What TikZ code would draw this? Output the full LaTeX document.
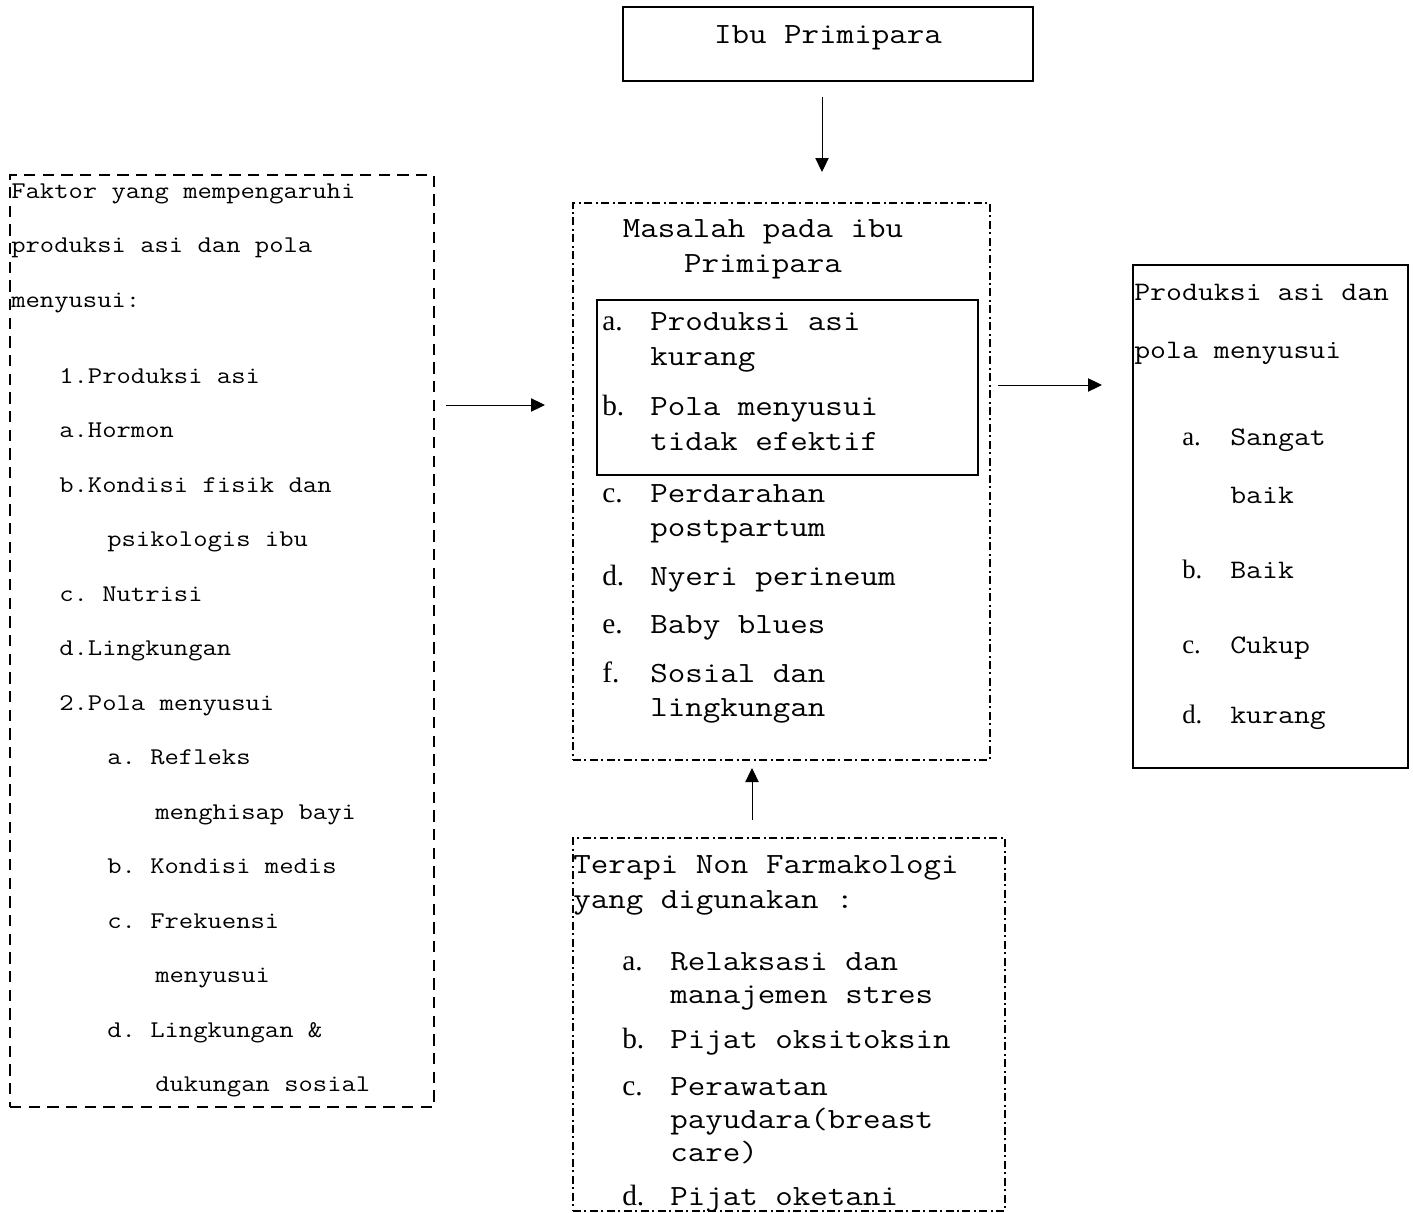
\documentclass[tikz,border=0pt]{standalone}
\usepackage{fontspec}
\setmainfont{Liberation Serif}
\setmonofont[FakeStretch=1.16]{Latin Modern Mono}
\usetikzlibrary{arrows.meta}

\newcommand{\fkiri}{\ttfamily\fontsize{18}{18}\selectfont}
\newcommand{\ftengah}{\ttfamily\fontsize{22}{22}\selectfont}
\newcommand{\fkanan}{\ttfamily\fontsize{20}{20}\selectfont}
\newcommand{\hrf}[1]{{\rmfamily #1}}

\tikzset{
	kotak/.style={draw=black, line width=1.5pt, inner sep=0pt, outer sep=0pt, anchor=north west},
	kotakputus/.style={kotak, line width=2pt, dash pattern=on 8.5pt off 5.5pt},
	kotaktitik/.style={kotak, line width=1.7pt, dash pattern=on 6pt off 2.6pt on 1.5pt off 2.6pt},
	baris/.style={anchor=base west, inner sep=0pt},
	panah/.style={line width=0.75pt, -{Triangle[length=10.5pt,width=10pt]}}
}

\begin{document}
\begin{tikzpicture}[x=0.75pt, y=-0.75pt]
	\useasboundingbox (0,0) rectangle (1413,1213);

	% kotak-kotak
	\node[kotak, minimum width=307.5pt, minimum height=55.5pt] (ibu) at (623,7) {};
	\node[kotakputus, minimum width=318pt, minimum height=699pt] (faktor) at (10,175) {};
	\node[kotaktitik, minimum width=312.75pt, minimum height=417.75pt] (masalah) at (573,203) {};
	\node[kotak, minimum width=285.75pt, minimum height=131.25pt] (fokus) at (597,300) {};
	\node[kotak, minimum width=206.25pt, minimum height=377.25pt] (hasil) at (1133,265) {};
	\node[kotaktitik, minimum width=324pt, minimum height=279.75pt] (terapi) at (573,838) {};

	% ibu primipara
	\node[anchor=base, inner sep=0pt, font=\ftengah] (ibu-t) at (828,44) {Ibu Primipara};

	% faktor
	\node[baris, font=\fkiri] (fk1) at (11,198) {Faktor yang mempengaruhi};
	\node[baris, font=\fkiri] (fk2) at (11,252.5) {produksi asi dan pola};
	\node[baris, font=\fkiri] (fk3) at (11,307) {menyusui:};
	\node[baris, font=\fkiri] (fk4) at (59,383) {1.Produksi asi};
	\node[baris, font=\fkiri] (fk5) at (59,437.5) {a.Hormon};
	\node[baris, font=\fkiri] (fk6) at (59,492) {b.Kondisi fisik dan};
	\node[baris, font=\fkiri] (fk7) at (107,546.5) {psikologis ibu};
	\node[baris, font=\fkiri] (fk8) at (59,601) {c. Nutrisi};
	\node[baris, font=\fkiri] (fk9) at (59,655.5) {d.Lingkungan};
	\node[baris, font=\fkiri] (fk10) at (59,710) {2.Pola menyusui};
	\node[baris, font=\fkiri] (fk11) at (107,764.5) {a. Refleks};
	\node[baris, font=\fkiri] (fk12) at (155,819) {menghisap bayi};
	\node[baris, font=\fkiri] (fk13) at (107,873.5) {b. Kondisi medis};
	\node[baris, font=\fkiri] (fk14) at (107,928) {c. Frekuensi};
	\node[baris, font=\fkiri] (fk15) at (155,982.5) {menyusui};
	\node[baris, font=\fkiri] (fk16) at (107,1037) {d. Lingkungan \&};
	\node[baris, font=\fkiri] (fk17) at (155,1091.5) {dukungan sosial};

	% masalah
	\node[anchor=base, inner sep=0pt, font=\ftengah] (ms1) at (763,237) {Masalah pada ibu};
	\node[anchor=base, inner sep=0pt, font=\ftengah] (ms2) at (763,272) {Primipara};
	\node[baris, font=\ftengah] (ma) at (602,330) {\hrf{a.}};
	\node[baris, font=\ftengah] (ma1) at (650,330) {Produksi asi};
	\node[baris, font=\ftengah] (ma2) at (650,365) {kurang};
	\node[baris, font=\ftengah] (mb) at (602,415) {\hrf{b.}};
	\node[baris, font=\ftengah] (mb1) at (650,415) {Pola menyusui};
	\node[baris, font=\ftengah] (mb2) at (650,450) {tidak efektif};
	\node[baris, font=\ftengah] (mc) at (602,502) {\hrf{c.}};
	\node[baris, font=\ftengah] (mc1) at (650,502) {Perdarahan};
	\node[baris, font=\ftengah] (mc2) at (650,536) {postpartum};
	\node[baris, font=\ftengah] (md) at (602,585) {\hrf{d.}};
	\node[baris, font=\ftengah] (md1) at (650,585) {Nyeri perineum};
	\node[baris, font=\ftengah] (me) at (602,633) {\hrf{e.}};
	\node[baris, font=\ftengah] (me1) at (650,633) {Baby blues};
	\node[baris, font=\ftengah] (mf) at (602,682) {\hrf{f.}};
	\node[baris, font=\ftengah] (mf1) at (650,682) {Sosial dan};
	\node[baris, font=\ftengah] (mf2) at (650,716) {lingkungan};

	% hasil
	\node[baris, font=\fkanan] (hs1) at (1134,300) {Produksi asi dan};
	\node[baris, font=\fkanan] (hs2) at (1134,358) {pola menyusui};
	\node[baris, font=\fkanan] (ha) at (1182,445) {\hrf{a.}};
	\node[baris, font=\fkanan] (ha1) at (1230,445) {Sangat};
	\node[baris, font=\fkanan] (ha2) at (1230,503) {baik};
	\node[baris, font=\fkanan] (hb) at (1182,578) {\hrf{b.}};
	\node[baris, font=\fkanan] (hb1) at (1230,578) {Baik};
	\node[baris, font=\fkanan] (hc) at (1182,653) {\hrf{c.}};
	\node[baris, font=\fkanan] (hc1) at (1230,653) {Cukup};
	\node[baris, font=\fkanan] (hd) at (1182,723) {\hrf{d.}};
	\node[baris, font=\fkanan] (hd1) at (1230,723) {kurang};

	% terapi
	\node[baris, font=\ftengah] (tr1) at (573,873) {Terapi Non Farmakologi};
	\node[baris, font=\ftengah] (tr2) at (573,908) {yang digunakan :};
	\node[baris, font=\ftengah] (ta) at (622,970) {\hrf{a.}};
	\node[baris, font=\ftengah] (ta1) at (670,970) {Relaksasi dan};
	\node[baris, font=\ftengah] (ta2) at (670,1003) {manajemen stres};
	\node[baris, font=\ftengah] (tb) at (622,1048) {\hrf{b.}};
	\node[baris, font=\ftengah] (tb1) at (670,1048) {Pijat oksitoksin};
	\node[baris, font=\ftengah] (tc) at (622,1095) {\hrf{c.}};
	\node[baris, font=\ftengah] (tc1) at (670,1095) {Perawatan};
	\node[baris, font=\ftengah] (tc2) at (670,1128) {payudara(breast};
	\node[baris, font=\ftengah] (tc3) at (670,1161) {care)};
	\node[baris, font=\ftengah] (td) at (622,1205) {\hrf{d.}};
	\node[baris, font=\ftengah] (td1) at (670,1205) {Pijat oketani};

	% panah
	\coordinate (p1) at (822,0);
	\coordinate (p2) at (0,405);
	\coordinate (p3) at (0,385);
	\coordinate (p4) at (752,0);
	\draw[panah, shorten <=12pt, shorten >=23.25pt] (ibu.south -| p1) -- (masalah.north -| p1);
	\draw[panah, shorten <=9pt, shorten >=21pt] (faktor.east |- p2) -- (masalah.west |- p2);
	\draw[panah, shorten <=6pt, shorten >=23.25pt] (masalah.east |- p3) -- (hasil.west |- p3);
	\draw[panah, shorten <=13.5pt, shorten >=6pt] (terapi.north -| p4) -- (masalah.south -| p4);
\end{tikzpicture}
\end{document}
